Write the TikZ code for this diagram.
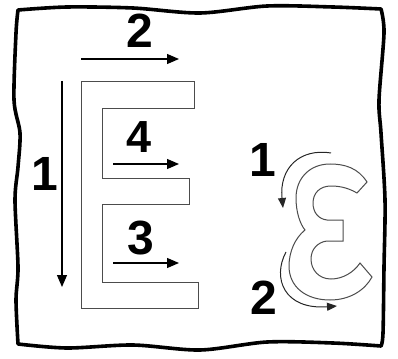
\documentclass[tikz,border=0pt]{standalone}
\usepackage{fontspec}
\setsansfont{Liberation Sans}
\usepackage{tikz}
\usetikzlibrary{arrows.meta}

\begin{document}
\begin{tikzpicture}[x=1pt, y=-1pt,
    numlabel/.style={font=\fontsize{48}{48}\selectfont\sffamily\bfseries, inner sep=0pt},
    dirarrow/.style={line width=1.3pt, -{Triangle[length=12pt, width=10pt]}},
    turnarrow/.style={line width=1pt, draw=black!85, -{Triangle[length=10pt, width=8pt]}},
    glyph/.style={draw=black!70, line width=1pt, fill=white}]
  \useasboundingbox (0,0) rectangle (398,358);

  % --- wavy frame ---
  \draw[line width=3.6pt, line join=round]
    plot[smooth] coordinates {(18,10) (67,7) (133,8) (200,13) (267,6) (333,7) (381,9)}
    -- plot[smooth] coordinates {(381,9) (384,33) (379,100) (381,133) (385,200) (384,267) (383,333) (381,346)}
    -- plot[smooth] coordinates {(381,346) (333,343) (267,342) (200,350) (133,345) (67,348) (18,344)}
    -- plot[smooth] coordinates {(18,344) (16,300) (18,267) (15,200) (18,167) (20,133) (14,100) (16,33) (18,10)}
    -- cycle;

  % --- block letter E ---
  \draw[glyph, line width=0.9pt]
    (81,81) -- (194,81) -- (194,108) -- (102,108) -- (102,178) -- (189,178)
    -- (189,204) -- (102,204) -- (102,282) -- (198,282) -- (198,308) -- (81,308) -- cycle;

  % stroke order of the E
  \coordinate (s1a) at (62,81);  \coordinate (s1b) at (62,287);
  \coordinate (s2a) at (81,59);  \coordinate (s2b) at (179,59);
  \coordinate (s4a) at (113,164); \coordinate (s4b) at (179,164);
  \coordinate (s3a) at (113,263); \coordinate (s3b) at (179,263);
  \draw[dirarrow] (s1a) -- (s1b);
  \draw[dirarrow] (s2a) -- (s2b);
  \draw[dirarrow] (s4a) -- (s4b);
  \draw[dirarrow] (s3a) -- (s3b);
  \node[numlabel] (n1) at (45,174) {1};
  \node[numlabel] (n2) at (140,31) {2};
  \node[numlabel, font=\fontsize{45}{45}\selectfont\sffamily\bfseries] (n4) at (139,137) {4};
  \node[numlabel] (n3) at (141,238) {3};

  % --- epsilon ---
  \draw[glyph]
    (367,182) .. controls (358,168) and (345,164) .. (330,164)
    .. controls (310,164) and (296,178) .. (296,198)
    .. controls (296,212) and (300,224) .. (305,230)
    .. controls (295,238) and (289,252) .. (289,266)
    .. controls (289,287) and (306,300) .. (330,300)
    .. controls (350,300) and (365,290) .. (372,277)
    -- (360,263)
    .. controls (354,272) and (343,279) .. (331,279)
    .. controls (319,279) and (311,270) .. (311,259)
    .. controls (311,249) and (318,242) .. (327,241)
    -- (343,241) -- (343,220) -- (327,220)
    .. controls (318,219) and (313,212) .. (313,203)
    .. controls (313,193) and (320,186) .. (331,186)
    .. controls (342,186) and (350,189) .. (357,193)
    -- cycle;

  % stroke order of the epsilon
  \coordinate (e1a) at (331,153); \coordinate (e1b) at (283,208);
  \coordinate (e2a) at (286,252); \coordinate (e2b) at (337,306);
  \draw[turnarrow] (e1a) .. controls (300,148) and (279,168) .. (e1b);
  \draw[turnarrow] (e2a) .. controls (272,278) and (284,310) .. (e2b);
  \node[numlabel] (m1) at (263,160) {1};
  \node[numlabel] (m2) at (264,298) {2};
\end{tikzpicture}
\end{document}
